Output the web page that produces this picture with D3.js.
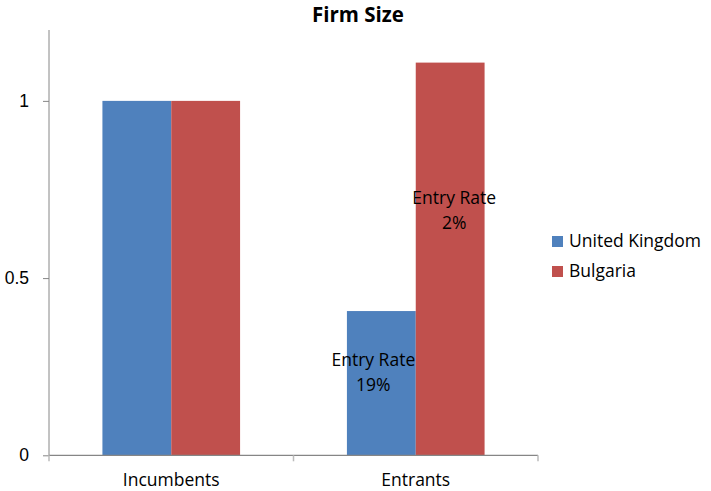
<!DOCTYPE html>
<html>
<head>
<meta charset="utf-8">
<script src="https://cdn.jsdelivr.net/npm/d3@7"></script>
<style>
  html, body { margin: 0; padding: 0; background: #fff; }
  svg { display: block; font-family: "Open Sans", Lato, sans-serif; }
</style>
</head>
<body>
<svg id="chart" width="711" height="491"></svg>
<script>
// Firm size relative to incumbents
const categories = ["Incumbents", "Entrants"];
const seriesNames = ["United Kingdom", "Bulgaria"];
const ukValues = [1, 0.407];
const bulgariaValues = [1, 1.108];
const entryRates = [null, ["19%", "2%"]];
const yTicks = [0, 0.5, 1];
const colors = ["#4F81BD", "#C0504D"];

const svg = d3.select("#chart");
const margin = { left: 49, right: 173, top: 30, bottom: 35.7 };
const W = 711, H = 491;
const innerW = W - margin.left - margin.right;
const innerH = H - margin.top - margin.bottom;
const g = svg.append("g").attr("transform", `translate(${margin.left},${margin.top})`);

const x0 = d3.scaleBand().domain(categories).range([0, innerW]).paddingInner(0.437).paddingOuter(0.2185);
const x1 = d3.scaleBand().domain(seriesNames).range([0, x0.bandwidth()]);
const y = d3.scaleLinear().domain([0, 1.2]).range([innerH, 0]);

const seriesValues = [ukValues, bulgariaValues];
const FS = 17.5;

// bars
seriesNames.forEach((s, si) => {
  g.selectAll(null).data(categories).enter().append("rect")
    .attr("x", c => x0(c) + x1(s))
    .attr("y", (c, i) => y(seriesValues[si][i]))
    .attr("width", x1.bandwidth())
    .attr("height", (c, i) => y(0) - y(seriesValues[si][i]))
    .attr("fill", colors[si]);
});

// y axis
const yAxis = g.append("g").call(d3.axisLeft(y).tickValues(yTicks).tickSize(6).tickPadding(14)
  .tickFormat(d => d === 0 ? "0" : d3.format("")(d)));
yAxis.select(".domain").attr("d", `M0,0V${innerH}`).attr("stroke", "#868686");
yAxis.selectAll(".tick line").attr("stroke", "#868686");
yAxis.selectAll(".tick text").attr("font-size", FS).attr("fill", "#000");

// x axis with boundary ticks between categories
const xAxis = g.append("g").attr("transform", `translate(0,${innerH})`);
xAxis.append("line").attr("x1", 0).attr("x2", innerW).attr("stroke", "#868686").attr("stroke-width", 1.2);
[0, innerW / 2, innerW].forEach(px => {
  xAxis.append("line").attr("x1", px).attr("x2", px).attr("y1", 0).attr("y2", 6)
    .attr("stroke", "#bbbbbb").attr("stroke-width", 1.5);
});
xAxis.selectAll(null).data(categories).enter().append("text")
  .attr("x", c => x0(c) + x0.bandwidth() / 2)
  .attr("y", 31)
  .attr("text-anchor", "middle")
  .attr("font-size", FS)
  .text(c => c);

// entry-rate data labels on the entrants bars
const eX = x0("Entrants");
const labelSpecs = [
  { s: 0, dx: -8, y0: y(ukValues[1]) + 55, rate: entryRates[1][0] },
  { s: 1, dx: 4, y0: y(bulgariaValues[1]) + 141, rate: entryRates[1][1] }
];
labelSpecs.forEach(l => {
  const cx = eX + x1(seriesNames[l.s]) + x1.bandwidth() / 2 + l.dx;
  const t = g.append("text").attr("text-anchor", "middle").attr("font-size", FS).attr("fill", "#000");
  t.append("tspan").attr("x", cx).attr("y", l.y0).text("Entry Rate");
  t.append("tspan").attr("x", cx).attr("y", l.y0 + 25).text(l.rate);
});

// title
svg.append("text").attr("x", 358).attr("y", 22).attr("text-anchor", "middle")
  .attr("font-size", 20.5).attr("font-weight", "bold").text("Firm Size");

// legend
const legend = svg.append("g").attr("transform", "translate(552,236)");
seriesNames.forEach((s, i) => {
  const row = legend.append("g").attr("transform", `translate(0,${i * 30})`);
  row.append("rect").attr("width", 11).attr("height", 11).attr("fill", colors[i]);
  row.append("text").attr("x", 17).attr("y", 11).attr("font-size", FS).text(s);
});
</script>
</body>
</html>
